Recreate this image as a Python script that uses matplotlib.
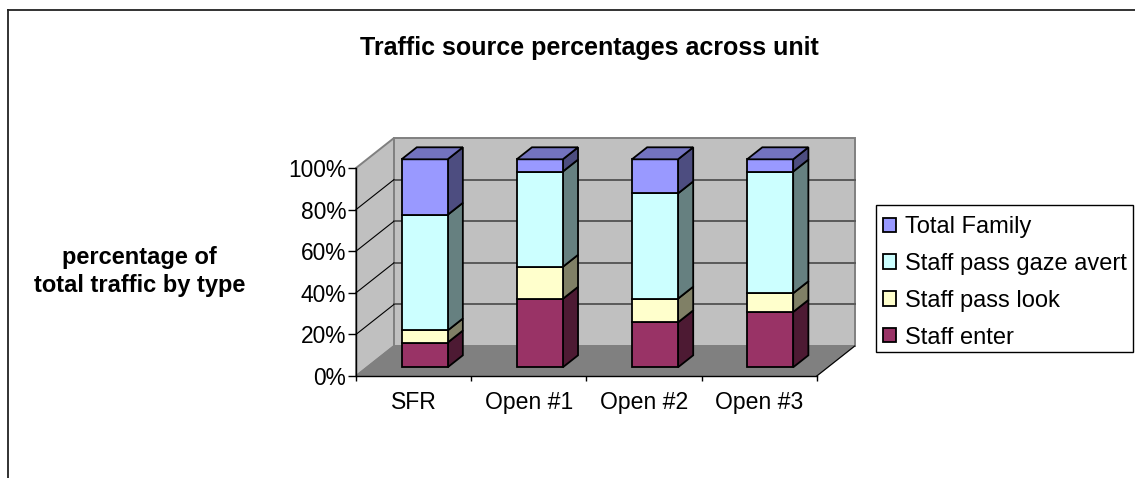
import matplotlib
matplotlib.use("Agg")
import matplotlib.pyplot as plt
from matplotlib.patches import Polygon, Patch, Rectangle
from matplotlib.lines import Line2D

categories = ["SFR", "Open #1", "Open #2", "Open #3"]
staff_enter = [11.9, 32.9, 21.6, 26.6]
staff_pass_look = [5.8, 15.4, 11.4, 9.0]
staff_pass_gaze_avert = [55.6, 45.8, 50.6, 58.5]
total_family = [26.7, 5.9, 16.4, 5.9]
series_names = ["Staff enter", "Staff pass look", "Staff pass gaze avert", "Total Family"]
y_ticks = [0, 20, 40, 60, 80, 100]
y_tick_labels = ["0%", "20%", "40%", "60%", "80%", "100%"]

front_colors = ["#993366", "#FFFFCC", "#CCFFFF", "#9999FF"]
side_colors = ["#4D1A33", "#808066", "#668080", "#4D4D80"]
top_color = "#7373BF"

W, H = 1135, 478
plt.rcParams["font.family"] = ["Liberation Sans", "DejaVu Sans"]
fig = plt.figure(figsize=(W / 100, H / 100), dpi=100, facecolor="white")
ax = fig.add_axes([356 / W, (H - 376) / H, 460.7 / W, 208 / H])
ax.set_xlim(0, 4)
ax.set_ylim(0, 100)
ax.patch.set_visible(False)

DX = 38 / (460.7 / 4)   # x data units for full depth
DY = 30 / 2.08          # y data units for full depth


def proj(x, y, d):
    return (x + DX * d, y + DY * d)


def quad(pts, fc, ec, lw, z):
    ax.add_patch(Polygon([proj(*p) for p in pts], closed=True, facecolor=fc, edgecolor=ec,
                         linewidth=lw, clip_on=False, zorder=z, joinstyle="miter"))


# walls and floor
quad([(0, 0, 0), (0, 0, 1), (0, 100, 1), (0, 100, 0)], "#C0C0C0", "#808080", 1.4, 1)
quad([(0, 0, 1), (4, 0, 1), (4, 100, 1), (0, 100, 1)], "#C0C0C0", "#808080", 1.4, 1)
quad([(0, 0, 0), (4, 0, 0), (4, 0, 1), (0, 0, 1)], "#808080", "#808080", 1.0, 1)
for t in y_ticks[1:-1]:
    ax.plot(*zip(proj(0, t, 1), proj(4, t, 1)), color="#5A5A5A", lw=1.4, clip_on=False, zorder=2)
    ax.plot(*zip(proj(0, t, 0), proj(0, t, 1)), color="black", lw=0.8, clip_on=False, zorder=2)
ax.plot(*zip(proj(4, 0, 0), proj(4, 0, 1)), color="black", lw=0.8, clip_on=False, zorder=2)

# bars
series = [staff_enter, staff_pass_look, staff_pass_gaze_avert, total_family]
d0, d1 = 0.29, 0.69
bw = 0.40
for i in range(len(categories)):
    x0, x1 = i + 0.5 - bw / 2, i + 0.5 + bw / 2
    base = 0.0
    for k, vals in enumerate(series):
        top = base + vals[i]
        z = 5 + k
        quad([(x1, base, d0), (x1, base, d1), (x1, top, d1), (x1, top, d0)], side_colors[k], "black", 1.3, z)
        quad([(x0, base, d0), (x1, base, d0), (x1, top, d0), (x0, top, d0)], front_colors[k], "black", 1.3, z)
        base = top
    quad([(x0, base, d0), (x1, base, d0), (x1, base, d1), (x0, base, d1)], top_color, "black", 1.3, 10)

# axes
for s in ("top", "right"):
    ax.spines[s].set_visible(False)
for s in ("left", "bottom"):
    ax.spines[s].set_linewidth(1.0)
    ax.spines[s].set_zorder(3)
ax.set_yticks(y_ticks, y_tick_labels, fontsize=16.4)
ax.set_xticks([0.5, 1.5, 2.5, 3.5], categories, fontsize=16.6)
ax.set_xticks([0, 1, 2, 3, 4], minor=True)
ax.tick_params(axis="x", which="major", length=0, pad=10.5)
ax.tick_params(axis="x", which="minor", length=3.6, width=1.0)
ax.tick_params(axis="y", length=5.5, width=1.0, pad=1.5)

# title and side label
fig.text(589 / W, 1 - 48.5 / H, "Traffic source percentages across unit", ha="center", va="center",
         fontsize=18, fontweight="bold")
fig.text(139.5 / W, 1 - 271.5 / H, "percentage of\ntotal traffic by type", ha="center", va="center",
         fontsize=17, fontweight="bold", linespacing=1.3)

# legend: frame drawn separately so the rows can sit as in the reference
fig.add_artist(Rectangle((875.7 / W, 1 - 352 / H), (1133 - 875.7) / W, 147 / H,
                         transform=fig.transFigure, facecolor="white", edgecolor="black", linewidth=1.0))
handles = [Patch(facecolor=front_colors[k], edgecolor="black", linewidth=1.3, label=series_names[k])
           for k in (3, 2, 1, 0)]
leg = fig.legend(handles=handles, loc="upper left", bbox_to_anchor=(875 / W, 1 - 208 / H),
                 borderaxespad=0, frameon=False,
                 fontsize=17, handlelength=0.55, handleheight=0.55, handletextpad=0.4,
                 labelspacing=0.63, borderpad=0.34)

# chart-area border
fig.add_artist(Line2D([7.5 / W, 7.5 / W], [0, 1 - 9.5 / H], color="#222222", lw=1.3))
fig.add_artist(Line2D([7.5 / W, 1], [1 - 9.5 / H, 1 - 9.5 / H], color="#222222", lw=1.3))

fig.savefig("out.png", dpi=100)
